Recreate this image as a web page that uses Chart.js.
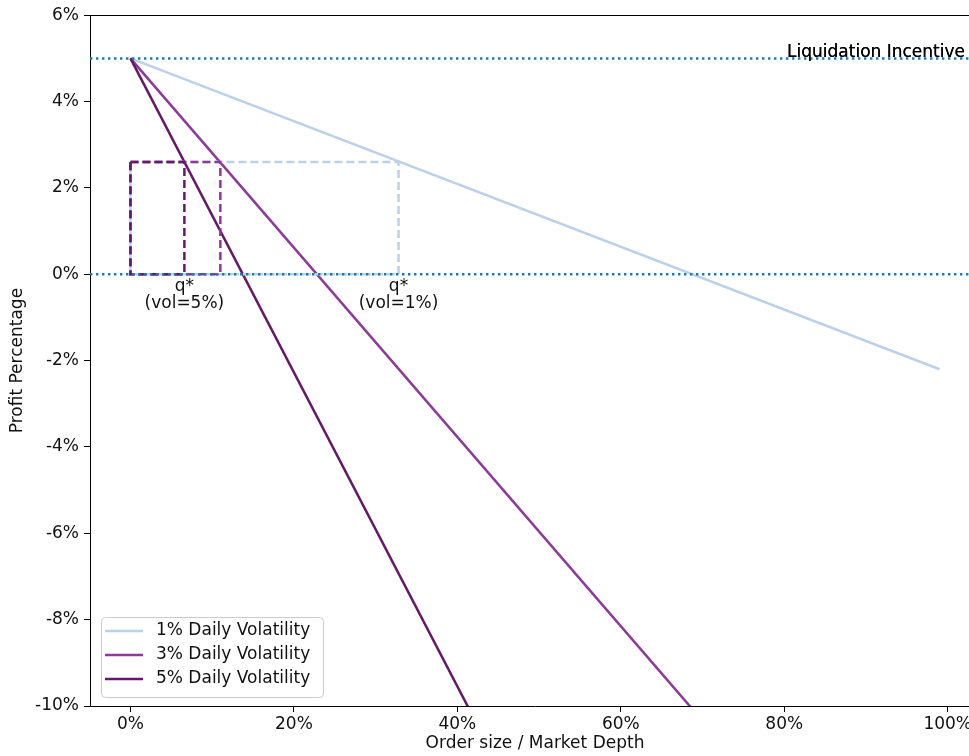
<!DOCTYPE html>
<html>
<head>
<meta charset="utf-8">
<script src="https://cdn.jsdelivr.net/npm/chart.js@4/dist/chart.umd.min.js"></script>
<style>
  html, body { margin: 0; padding: 0; background: #fff; overflow: hidden; width: 969px; height: 756px; }
  #wrap { position: relative; width: 990px; height: 756px; }
</style>
</head>
<body>
<div id="wrap"><canvas id="c" width="990" height="756"></canvas></div>
<script>
// ---- data ----
const xTicks = [0, 20, 40, 60, 80, 100];
const yTicks = [-10, -8, -6, -4, -2, 0, 2, 4, 6];
const orderSize = [0, 99];                 // x (% of market depth)
const vol1Profit = [5, -2.2];              // profit % at orderSize
const vol3Profit = [5, -16.7];
const vol5Profit = [5, -31.0];
const seriesLabels = ['1% Daily Volatility', '3% Daily Volatility', '5% Daily Volatility'];
const qStar = [32.8, 11.0, 6.6];           // optimal order size per series
const qStarProfit = 2.6;
const qStarLabels = [['q*', '(vol=1%)'], null, ['q*', '(vol=5%)']];
const incentiveLevel = 5;
const breakEvenLevel = 0;
const xRange = [-4.95, 103.95];
const yRange = [-10, 6];
const incentiveText = 'Liquidation Incentive';

// ---- styles ----
const colors = ['#bcd0e8', '#8c3a98', '#641a66'];
const FONT = "'DejaVu Sans', sans-serif";

function pts(xs, ys) { return xs.map((x, i) => ({ x: x, y: ys[i] })); }
function rect(q, p) { return [{x:0,y:p},{x:q,y:p},{x:q,y:0},{x:0,y:0},{x:0,y:p}]; }

const datasets = [];
// dotted reference lines (top)
[incentiveLevel, breakEvenLevel].forEach(v => {
  datasets.push({ data: [{x: xRange[0], y: v}, {x: xRange[1], y: v}], borderColor: '#1f77b4',
    borderWidth: 2.5, borderDash: [2.4, 3.6], pointRadius: 0, fill: false });
});
// q* rectangles: 5%, 3%, 1%
[2, 1, 0].forEach(i => {
  datasets.push({ data: rect(qStar[i], qStarProfit), borderColor: colors[i], borderWidth: 2.5,
    borderDash: [8, 4], pointRadius: 0, fill: false });
});
// main lines: 5%, 3%, 1%
const series = [vol1Profit, vol3Profit, vol5Profit];
[2, 1, 0].forEach(i => {
  datasets.push({ label: seriesLabels[i], data: pts(orderSize, series[i]), borderColor: colors[i],
    borderWidth: 2.5, pointRadius: 0, fill: false });
});

const overlay = {
  id: 'overlay',
  afterDraw(chart) {
    const ctx = chart.ctx, a = chart.chartArea;
    const xs = chart.scales.x, ys = chart.scales.y;
    ctx.save();
    // top & right spines
    ctx.strokeStyle = '#000'; ctx.lineWidth = 1;
    ctx.beginPath();
    ctx.moveTo(Math.round(a.left) , Math.round(a.top) + 0.5);
    ctx.lineTo(Math.round(a.right), Math.round(a.top) + 0.5);
    ctx.lineTo(Math.round(a.right) + 0.5, Math.round(a.bottom));
    ctx.stroke();

    // Liquidation Incentive text
    ctx.font = '17px ' + FONT;
    ctx.fillStyle = '#000';
    ctx.textAlign = 'right'; ctx.textBaseline = 'alphabetic';
    const ly = ys.getPixelForValue(incentiveLevel) - 1;
    ctx.fillText(incentiveText, 965, ly);
    ctx.fillText(incentiveText, 965, ly);

    // q* labels
    ctx.textAlign = 'center'; ctx.textBaseline = 'middle'; ctx.fillStyle = '#111';
    const y0 = ys.getPixelForValue(breakEvenLevel);
    qStarLabels.forEach((lab, i) => {
      if (!lab) return;
      const x = xs.getPixelForValue(qStar[i]);
      ctx.fillText(lab[0], x, y0 + 12);
      ctx.fillText(lab[1], x, y0 + 29);
    });

    // legend
    const bx = 101.5, by = 617.5, bw = 222, bh = 80, r = 4;
    ctx.beginPath();
    ctx.moveTo(bx + r, by);
    ctx.lineTo(bx + bw - r, by); ctx.arcTo(bx + bw, by, bx + bw, by + r, r);
    ctx.lineTo(bx + bw, by + bh - r); ctx.arcTo(bx + bw, by + bh, bx + bw - r, by + bh, r);
    ctx.lineTo(bx + r, by + bh); ctx.arcTo(bx, by + bh, bx, by + bh - r, r);
    ctx.lineTo(bx, by + r); ctx.arcTo(bx, by, bx + r, by, r);
    ctx.closePath();
    ctx.fillStyle = 'rgba(255,255,255,0.8)'; ctx.fill();
    ctx.strokeStyle = '#cccccc'; ctx.lineWidth = 1; ctx.stroke();
    const rows = [631, 655, 679];
    seriesLabels.forEach((lab, i) => {
      ctx.strokeStyle = colors[i]; ctx.lineWidth = 2.5; ctx.setLineDash([]);
      ctx.beginPath(); ctx.moveTo(105, rows[i]); ctx.lineTo(143, rows[i]); ctx.stroke();
      ctx.fillStyle = '#111'; ctx.textAlign = 'left'; ctx.textBaseline = 'middle';
      ctx.fillText(lab, 156, rows[i]);
    });
    ctx.restore();
  }
};

new Chart(document.getElementById('c'), {
  type: 'line',
  data: { datasets: datasets },
  plugins: [overlay],
  options: {
    responsive: false,
    animation: false,
    devicePixelRatio: 1,
    layout: { padding: { top: 14, right: 10, left: 0, bottom: 0 } },
    plugins: { legend: { display: false }, tooltip: { enabled: false } },
    elements: { line: { tension: 0, borderCapStyle: 'butt' } },
    scales: {
      x: {
        type: 'linear', min: xRange[0], max: xRange[1],
        afterBuildTicks: s => { s.ticks = xTicks.map(v => ({ value: v })); },
        afterFit: s => { s.height = 50; },
        ticks: { color: '#111', font: { family: FONT, size: 17 }, padding: 2, maxRotation: 0,
                 callback: v => v + '%' },
        grid: { display: true, drawOnChartArea: false, drawTicks: true, tickLength: 6, color: '#000' },
        border: { display: true, color: '#000', width: 1 },
        title: { display: true, text: 'Order size / Market Depth', color: '#111',
                 font: { family: FONT, size: 17 }, padding: { top: 0, bottom: 2 } }
      },
      y: {
        type: 'linear', min: yRange[0], max: yRange[1],
        afterBuildTicks: s => { s.ticks = yTicks.map(v => ({ value: v })); },
        afterFit: s => { s.width = 90; },
        ticks: { color: '#111', font: { family: FONT, size: 17 }, padding: 5,
                 callback: v => v + '%' },
        grid: { display: true, drawOnChartArea: false, drawTicks: true, tickLength: 6, color: '#000' },
        border: { display: true, color: '#000', width: 1 },
        title: { display: true, text: 'Profit Percentage', color: '#111',
                 font: { family: FONT, size: 17 }, padding: { top: 7, bottom: 0 } }
      }
    }
  }
});
</script>
</body>
</html>
